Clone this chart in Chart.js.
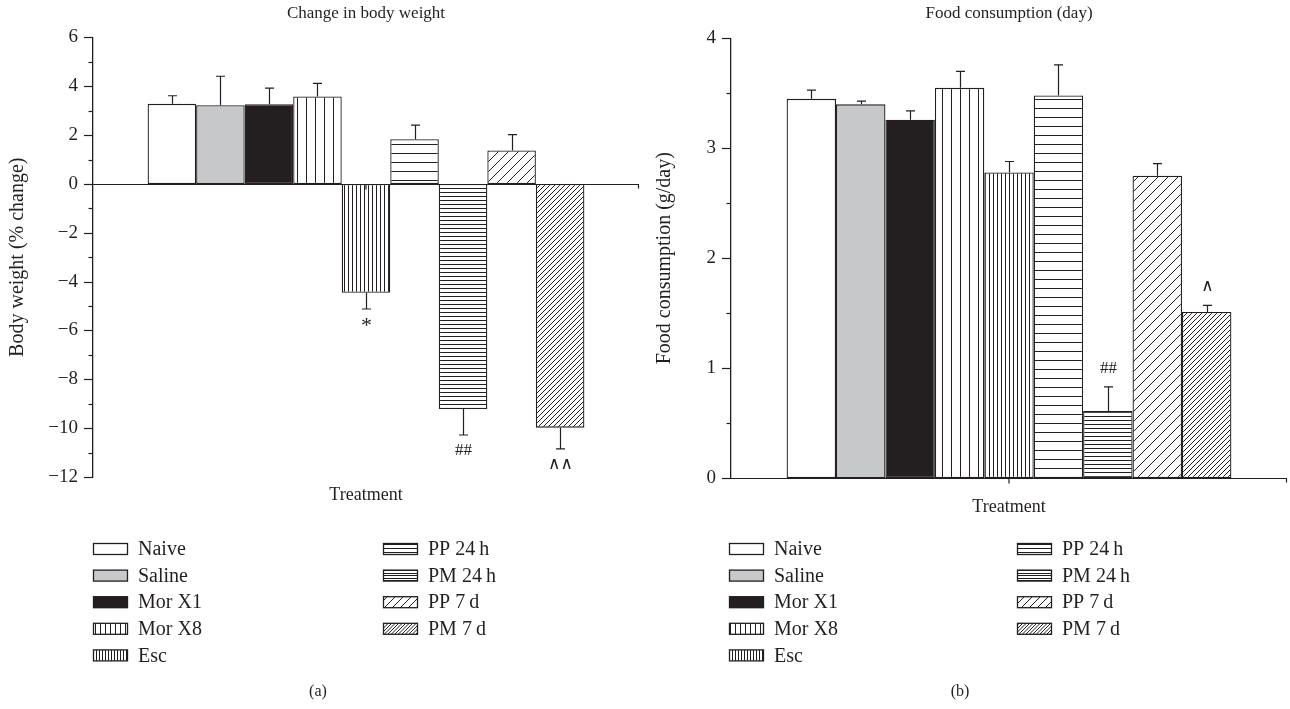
<!DOCTYPE html>
<html>
<head>
<meta charset="utf-8">
<script src="https://cdn.jsdelivr.net/npm/chart.js"></script>
<style>
  body { margin: 0; background: #fff; }
  #wrap { position: relative; width: 1290px; height: 709px; }
  canvas { position: absolute; top: 0; }
  #chartA { left: 0; }
  #chartB { left: 645px; }
</style>
</head>
<body>
<div id="wrap">
  <canvas id="chartA" width="645" height="709"></canvas>
  <canvas id="chartB" width="645" height="709"></canvas>
</div>
<script>
// groups, in bar order
var groups = ['Naive', 'Saline', 'Mor X1', 'Mor X8', 'Esc', 'PP 24\u2009h', 'PM 24\u2009h', 'PP 7\u2009d', 'PM 7\u2009d'];

// (a) change in body weight, % change, mean and SEM
var bodyWeight    = [3.28, 3.22, 3.26, 3.58, -4.46, 1.83, -9.22, 1.37, -9.98];
var bodyWeightErr = [0.33, 1.19, 0.66, 0.54, 0.66, 0.58, 1.06, 0.65, 0.87];
var bodyWeightSig = ['', '', '', '', '*', '', '##', '', '\u2227\u2227'];

// (b) food consumption, g/day, mean and SEM
var food    = [3.45, 3.40, 3.26, 3.55, 2.78, 3.48, 0.61, 2.75, 1.51];
var foodErr = [0.08, 0.03, 0.08, 0.15, 0.10, 0.28, 0.22, 0.11, 0.06];
var foodSig = ['', '', '', '', '', '', '##', '', '\u2227'];

var INK = '#231f20';
var SERIF = '"Liberation Serif", "DejaVu Serif", serif';

// fill style for each group: plain colour or line hatch (gap in px, bar / legend)
var fills = [
  { color: '#ffffff' },
  { color: '#c7c8ca' },
  { color: INK },
  { hatch: 'v', gap: 9, lgap: 5 },
  { hatch: 'v', gap: 4, lgap: 3 },
  { hatch: 'h', gap: 9, lgap: 4 },
  { hatch: 'h', gap: 4, lgap: 2.5 },
  { hatch: 'd', gap: 10, lgap: 8 },
  { hatch: 'd', gap: 5, lgap: 3.5 }
];

function makeFill(f, ctx, legend) {
  if (f.color) return f.color;
  var gap = legend ? f.lgap : f.gap;
  var m = Math.round(gap) === gap ? 1 : 2;
  var s = Math.round(gap * m);
  var tile = document.createElement('canvas');
  tile.width = s; tile.height = s;
  var g = tile.getContext('2d');
  g.fillStyle = '#fff';
  g.fillRect(0, 0, s, s);
  g.strokeStyle = INK;
  g.lineWidth = 1;
  g.beginPath();
  if (f.hatch === 'd') {
    for (var c = 0; c <= 2 * s + 0.01; c += gap) {
      g.moveTo(c + 1, -1); g.lineTo(c - s - 1, s + 1);
    }
  } else {
    for (var k = 0; k < m; k++) {
      var p = Math.round(k * gap) + 0.5;
      if (f.hatch === 'v') { g.moveTo(p, 0); g.lineTo(p, s); }
      else { g.moveTo(0, p); g.lineTo(s, p); }
    }
  }
  g.stroke();
  return ctx.createPattern(tile, 'repeat');
}

// draws the zero/base line, tick marks, error bars, significance marks, legend and captions
var decor = {
  id: 'decor',
  afterDatasetsDraw: function (chart) {
    var ctx = chart.ctx, area = chart.chartArea, y = chart.scales.y, o = chart.options.decor;
    ctx.save();
    ctx.strokeStyle = INK;
    ctx.fillStyle = INK;
    ctx.lineWidth = 1.2;

    // y ticks: major and minor, pointing out
    for (var v = y.min; v <= y.max + 1e-9; v += o.minorStep) {
      var py = Math.round(y.getPixelForValue(v)) + 0.5;
      var major = Math.abs(v / o.majorStep - Math.round(v / o.majorStep)) < 1e-6;
      ctx.beginPath();
      ctx.moveTo(area.left, py);
      ctx.lineTo(area.left - (major ? 9 : 4.5), py);
      ctx.stroke();
    }

    // x axis line at zero, with tick at centre and end
    var zy = Math.round(y.getPixelForValue(0)) + 0.5;
    var cx = (area.left + area.right) / 2;
    ctx.beginPath();
    ctx.moveTo(area.left, zy); ctx.lineTo(area.right, zy);
    ctx.moveTo(area.right - 0.5, zy); ctx.lineTo(area.right - 0.5, zy + 4);
    ctx.moveTo(cx, zy); ctx.lineTo(cx, zy + 5);
    ctx.stroke();

    // error bars (one sided, away from zero) and marks
    ctx.textAlign = 'center';
    chart.data.datasets.forEach(function (ds, i) {
      var bar = chart.getDatasetMeta(i).data[0];
      var val = ds.data[0];
      var sgn = val < 0 ? -1 : 1;
      var end = y.getPixelForValue(val + sgn * o.err[i]);
      var x = Math.round(bar.x) + 0.5;
      ctx.beginPath();
      ctx.moveTo(x, bar.y);
      ctx.lineTo(x, end);
      ctx.moveTo(x - 4.5, end);
      ctx.lineTo(x + 4.5, end);
      ctx.stroke();
      var mark = o.sig[i];
      if (mark) {
        ctx.font = (mark === '*' ? '22px ' : '17px ') + SERIF;
        if (sgn < 0) { ctx.textBaseline = 'top'; ctx.fillText(mark, x, end + (mark === '*' ? 6 : 7)); }
        else { ctx.textBaseline = 'bottom'; ctx.fillText(mark, x, end - 10); }
      }
    });

    // x axis title
    ctx.font = '18px ' + SERIF;
    ctx.textBaseline = 'middle';
    ctx.fillText('Treatment', cx, o.xTitleY);

    // legend, two columns
    ctx.font = '20px ' + SERIF;
    ctx.textAlign = 'left';
    chart.data.datasets.forEach(function (ds, i) {
      var col = i < 5 ? 0 : 1;
      var row = i < 5 ? i : i - 5;
      var ly = 549 + row * 26.6;
      var sx = o.legendX[col];
      ctx.fillStyle = makeFill(fills[i], ctx, true);
      ctx.fillRect(sx, ly - 5.5, 35, 11);
      ctx.lineWidth = 1.3;
      ctx.strokeRect(sx + 0.5, ly - 5.5, 34, 11);
      ctx.fillStyle = INK;
      ctx.fillText(ds.label, sx + 45, ly + 1);
    });

    // panel caption
    ctx.font = '16px ' + SERIF;
    ctx.textAlign = 'center';
    ctx.fillText(o.caption, o.captionX, 692);
    ctx.restore();
  }
};

function buildChart(id, s) {
  var ctx = document.getElementById(id).getContext('2d');
  return new Chart(ctx, {
    type: 'bar',
    data: {
      labels: ['Treatment'],
      datasets: groups.map(function (g, i) {
        return {
          label: g,
          data: [s.values[i]],
          backgroundColor: makeFill(fills[i], ctx, false),
          borderColor: INK,
          borderWidth: 1.3,
          borderSkipped: false,
          categoryPercentage: 0.8,
          barPercentage: 1.0
        };
      })
    },
    options: {
      responsive: false,
      animation: false,
      layout: { padding: { top: 0, right: s.padRight, bottom: s.padBottom, left: 0 } },
      decor: s.decor,
      plugins: {
        legend: { display: false },
        tooltip: { enabled: false },
        title: {
          display: true,
          text: s.title,
          fullSize: false,
          color: INK,
          font: { family: SERIF, size: 17, weight: 'normal' },
          padding: { top: 3, bottom: s.titleGap }
        }
      },
      scales: {
        x: { display: false },
        y: {
          min: s.min,
          max: s.max,
          afterFit: function (sc) { sc.width = s.axisWidth; },
          ticks: {
            stepSize: s.step,
            padding: 15,
            color: INK,
            font: { family: SERIF, size: 19 },
            callback: function (v) { return String(v).replace('-', '\u2212'); }
          },
          grid: { display: false, drawTicks: false },
          border: { display: true, color: INK, width: 1.3 },
          title: {
            display: true,
            text: s.yTitle,
            color: INK,
            font: { family: SERIF, size: 20 },
            padding: { top: s.yTitlePad, bottom: 0 }
          }
        }
      }
    },
    plugins: [decor]
  });
}

buildChart('chartA', {
  values: bodyWeight,
  title: 'Change in body weight',
  yTitle: 'Body weight (% change)',
  min: -12, max: 6, step: 2,
  axisWidth: 93, padRight: 6, padBottom: 232, titleGap: 14, yTitlePad: 6,
  decor: {
    err: bodyWeightErr, sig: bodyWeightSig, majorStep: 2, minorStep: 1,
    xTitleY: 495, legendX: [93, 383],
    caption: '(a)', captionX: 318
  }
});

buildChart('chartB', {
  values: food,
  title: 'Food consumption (day)',
  yTitle: 'Food consumption (g/day)',
  min: 0, max: 4, step: 1,
  axisWidth: 86, padRight: 3, padBottom: 231, titleGap: 15, yTitlePad: 8,
  decor: {
    err: foodErr, sig: foodSig, majorStep: 1, minorStep: 0.5,
    xTitleY: 507, legendX: [84, 372],
    caption: '(b)', captionX: 315
  }
});
</script>
</body>
</html>
